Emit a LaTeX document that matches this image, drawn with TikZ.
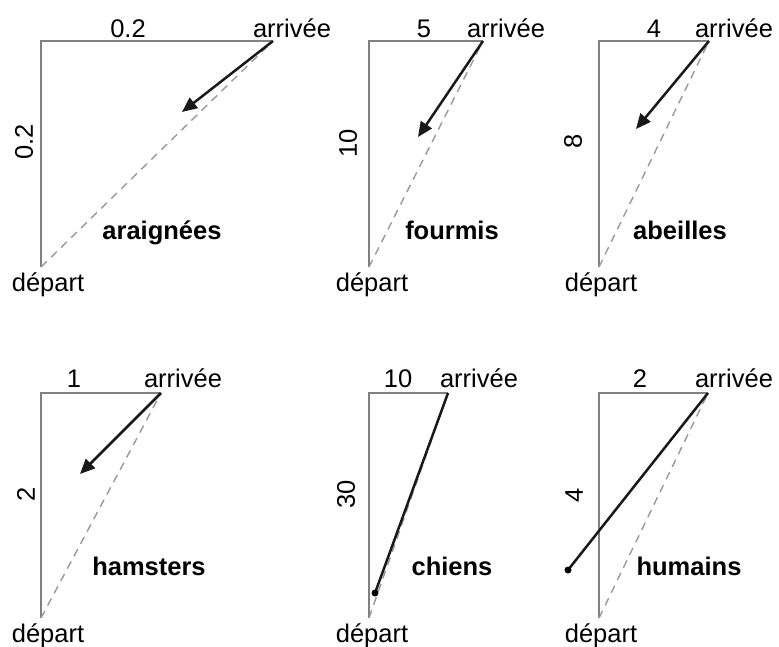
\documentclass[tikz,border=0pt]{standalone}
\usepackage{fontspec}
\setmainfont{Liberation Sans}
\usetikzlibrary{arrows.meta, positioning, calc}

\begin{document}
\begin{tikzpicture}[x=1pt, y=-1pt,
  txt/.style={anchor=base, inner sep=0pt, font=\fontsize{25.5}{30}\selectfont},
  nom/.style={txt, font=\fontsize{25.5}{30}\selectfont\bfseries},
  axe/.style={gray, line width=1.6pt},
  trajet/.style={gray!80, line width=1.4pt, dash pattern=on 8pt off 6pt},
  fleche/.style={black!90, line width=2.5pt, -{Triangle[length=15pt, width=13pt]}},
  trait/.style={black!90, line width=2.5pt},
  point/.style={circle, fill=black, inner sep=0pt, minimum size=7pt}]
\useasboundingbox (0,0) rectangle (779,646);
\foreach \i/\cx/\cy/\w/\h/\ex/\ey in {1/41/41/232/226/182/112, 2/369/41/114/226/418/137, 3/599/41/110/226/636/129, 4/41/393/120/225/80/474, 5/369/393/79/225/375/593, 6/599/393/109/225/568/570} {
  \coordinate (c\i) at (\cx,\cy);
  \coordinate (a\i) at (\cx+\w,\cy);
  \coordinate (o\i) at (\cx,\cy+\h);
  \coordinate (e\i) at (\ex,\ey);
  \draw[axe] (a\i) -- (c\i) -- (o\i);
  \draw[trajet] (o\i) -- (a\i);
}
\foreach \i in {1,...,4} { \draw[fleche] (a\i) -- (e\i); }
\foreach \i in {5,6} { \draw[trait] (a\i) -- (e\i); \node[point] (p\i) at (e\i) {}; }
\foreach \i/\x/\y/\lab in {1/128/37/0.2, 2/424/37/5, 3/654/37/4, 4/74/387/1, 5/398/387/10, 6/640/387/2} { \node[txt] (h\i) at (\x,\y) {\lab}; }
\foreach \i/\x/\y in {1/292/37, 2/506/37, 3/734/37, 4/183/387, 5/479/387, 6/734/387} { \node[txt] (arr\i) at (\x,\y) {arrivée}; }
\foreach \i/\x/\y/\lab in {1/24/142/0.2, 2/348/143/10, 3/573/141/8, 4/26/494/2, 5/346/494/30, 6/574/495/4} { \node[txt, anchor=center, rotate=90] (v\i) at (\x,\y) {\lab}; }
\foreach \i/\x/\y/\lab in {1/162/239/araignées, 2/452/239/fourmis, 3/680/239/abeilles, 4/149/575/hamsters, 5/452/575/chiens, 6/689/575/humains} { \node[nom] (n\i) at (\x,\y) {\lab}; }
\foreach \i/\x/\y in {1/48/291, 2/372/291, 3/601/291, 4/48/642, 5/372/642, 6/601/642} { \node[txt] (dep\i) at (\x,\y) {départ}; }
\end{tikzpicture}
\end{document}
